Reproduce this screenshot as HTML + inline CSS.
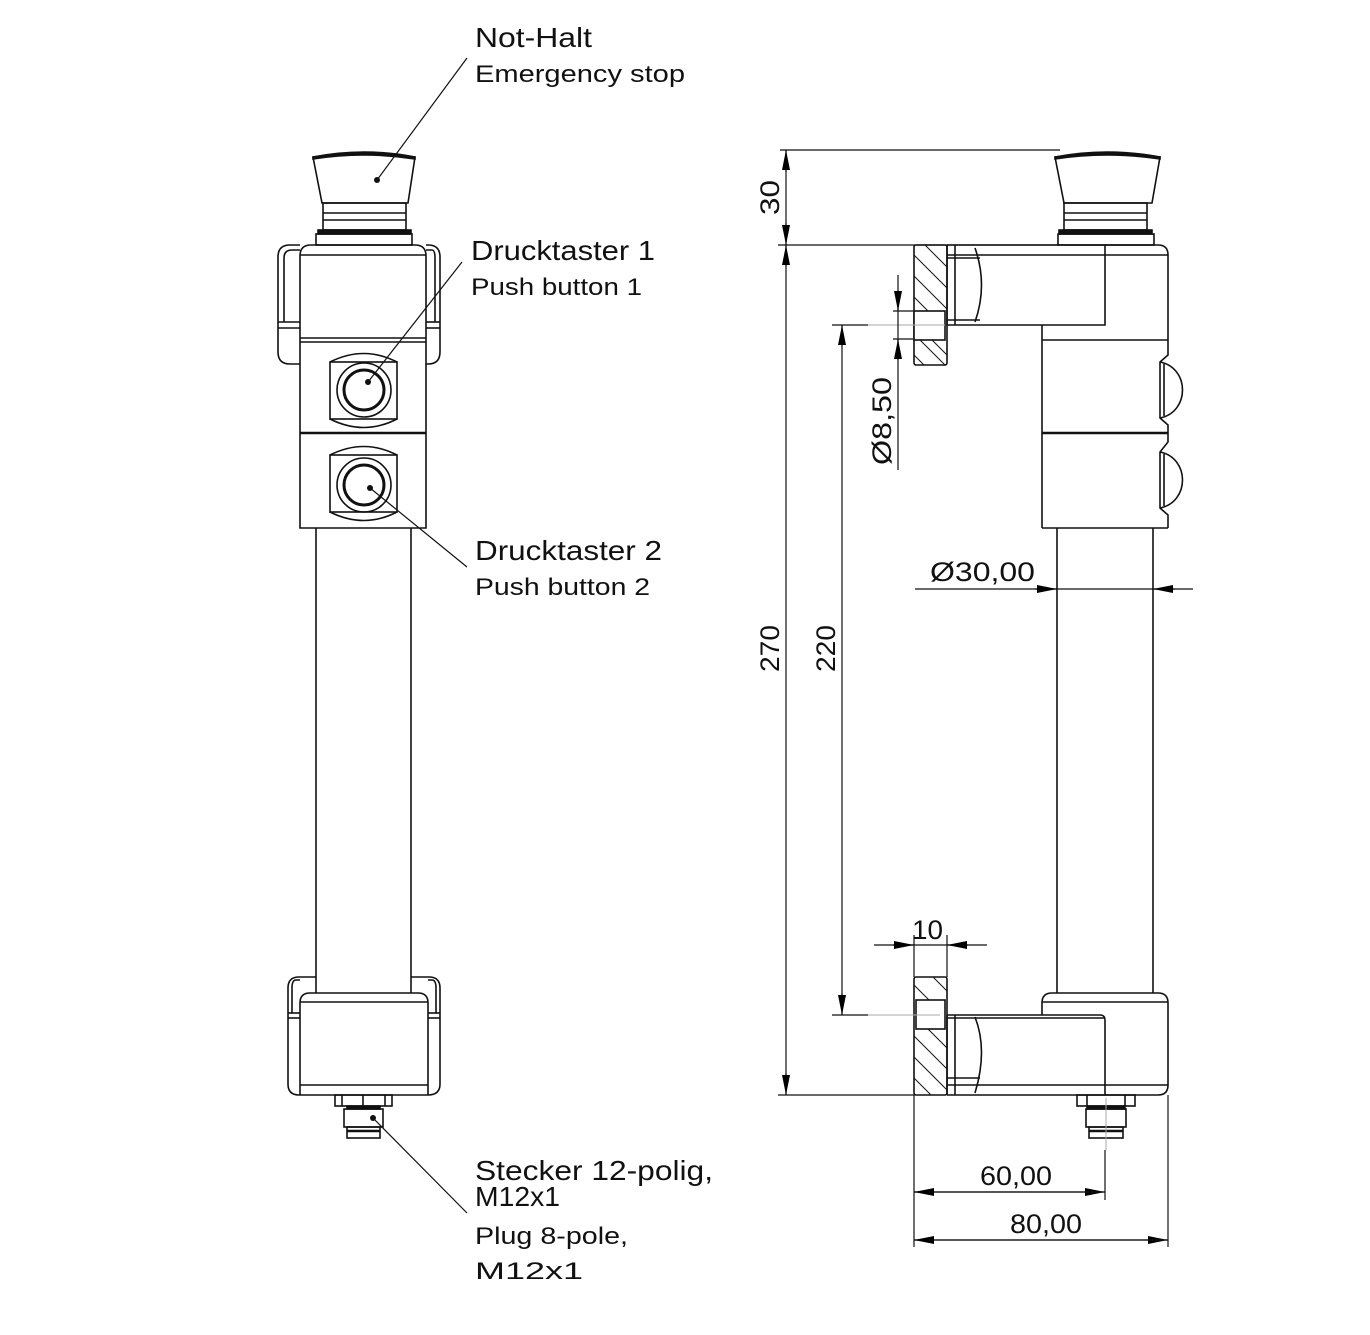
<!DOCTYPE html>
<html><head><meta charset="utf-8"><style>
html,body{margin:0;padding:0;background:#fff;}
svg{display:block;}
text{font-family:"Liberation Sans",sans-serif;fill:#111;}
</style></head><body>
<svg width="1370" height="1335" viewBox="0 0 1370 1335" xmlns="http://www.w3.org/2000/svg">
<defs>
<marker id="a" viewBox="0 0 20 8" refX="20" refY="4" markerWidth="20" markerHeight="8" markerUnits="userSpaceOnUse" orient="auto"><path d="M0,0 L20,4 L0,8 Z" fill="#000"/></marker>
</defs>
<g fill="none" stroke="#111" stroke-width="1.6">
<!-- LEFT VIEW -->
<path d="M313,157 Q364,149 415,157 L408,203 L322,203 Z" fill="#fff"/>
<path d="M313,157 Q364,147 415,157 L415,159 Q364,151 313,159 Z" fill="#111"/>
<rect x="323" y="203" width="83" height="27"/>
<line x1="323" y1="213" x2="406" y2="213"/><line x1="323" y1="220" x2="406" y2="220"/>
<rect x="318" y="230" width="93" height="4" fill="#111"/>
<rect x="316" y="234" width="96" height="11"/>
<path d="M300,245 L290,245 Q278,245 278,257 L278,352 Q278,364 290,364 L300,364"/>
<path d="M426,245 L428,245 Q440,245 440,257 L440,352 Q440,364 428,364 L426,364"/>
<path d="M300,250 L292,250 Q284,250 284,258 L284,322"/>
<path d="M426,250 L432,250 Q435,250 435,258 L435,322"/>
<line x1="278" y1="322" x2="300" y2="322"/><line x1="426" y1="322" x2="440" y2="322"/>
<line x1="278" y1="328" x2="300" y2="328"/><line x1="426" y1="328" x2="440" y2="328"/>
<path d="M300,528 L300,256 Q300,245 311,245 L415,245 Q426,245 426,256 L426,528 Z"/>
<line x1="300" y1="255" x2="426" y2="255"/>
<line x1="300" y1="338" x2="426" y2="338"/><line x1="300" y1="342" x2="426" y2="342"/>
<line x1="300" y1="433" x2="426" y2="433" stroke-width="2.4"/>
<rect x="330" y="362" width="67" height="57"/>
<path d="M330,362 Q364,345 397,362"/><path d="M330,419 Q364,436 397,419"/>
<circle cx="364" cy="390" r="27"/><circle cx="364" cy="390" r="20" stroke-width="3"/>
<rect x="330" y="455" width="67" height="57"/>
<path d="M330,455 Q364,438 397,455"/><path d="M330,512 Q364,529 397,512"/>
<circle cx="364" cy="485" r="27"/><circle cx="364" cy="485" r="20" stroke-width="3"/>
<line x1="316" y1="528" x2="316" y2="993"/><line x1="411" y1="528" x2="411" y2="993"/>
<path d="M316,977 L299,977 Q288,977 288,988 L288,1084 Q288,1095 299,1095 L428,1095 Q440,1095 440,1084 L440,988 Q440,977 429,977 L411,977"/>
<path d="M300,980 L296,980 Q292,980 292,988 L292,1013"/>
<path d="M428,980 L432,980 Q436,980 436,988 L436,1013"/>
<line x1="288" y1="1013" x2="300" y2="1013"/><line x1="428" y1="1013" x2="440" y2="1013"/>
<line x1="288" y1="1018" x2="300" y2="1018"/><line x1="428" y1="1018" x2="440" y2="1018"/>
<path d="M300,1095 L300,1003 Q300,993 310,993 L418,993 Q428,993 428,1003 L428,1095"/>
<line x1="300" y1="1002" x2="428" y2="1002"/>
<line x1="300" y1="1085" x2="428" y2="1085"/>
<rect x="335" y="1095" width="57" height="11"/>
<line x1="342" y1="1095" x2="342" y2="1106"/><line x1="385" y1="1095" x2="385" y2="1106"/>
<line x1="363" y1="1095" x2="363" y2="1106"/>
<rect x="347" y="1106" width="33" height="3" fill="#111"/>
<rect x="344" y="1109" width="39" height="18"/>
<rect x="347" y="1127" width="33" height="11"/>
<line x1="347" y1="1131" x2="380" y2="1131" stroke-width="2.5"/>

<!-- RIGHT VIEW -->
<path d="M1055,157 Q1107,149 1160,157 L1152,203 L1064,203 Z" fill="#fff"/>
<path d="M1055,157 Q1107,147 1160,157 L1160,159 Q1107,151 1055,159 Z" fill="#111"/>
<rect x="1064" y="203" width="83" height="27"/>
<line x1="1064" y1="213" x2="1147" y2="213"/><line x1="1064" y1="220" x2="1147" y2="220"/>
<rect x="1059" y="230" width="93" height="4" fill="#111"/>
<rect x="1058" y="234" width="96" height="11"/>
<path d="M947,245 L1158,245 Q1168,245 1168,255 L1168,355 L1160,362 L1160,418 L1168,425 L1168,442 L1160,452 L1160,508 L1168,515 L1168,528"/>
<line x1="947" y1="255" x2="1168" y2="255"/>
<path d="M947,245 L947,325 L1105,325 L1105,245"/>
<line x1="947" y1="258" x2="980" y2="258"/><line x1="947" y1="320" x2="980" y2="320"/>
<line x1="955" y1="245" x2="955" y2="325"/>
<path d="M975,248 Q988,285 975,322"/>
<line x1="1042" y1="325" x2="1042" y2="528"/>
<line x1="1042" y1="340" x2="1168" y2="340"/>
<line x1="1042" y1="433" x2="1168" y2="433" stroke-width="2.4"/>
<path d="M1042,528 L1168,528"/>
<path d="M1160,362 C1190,368 1190,412 1160,418"/><line x1="1164" y1="364" x2="1164" y2="416"/>
<path d="M1160,452 C1190,458 1190,502 1160,508"/><line x1="1164" y1="454" x2="1164" y2="506"/>
<rect x="914" y="245" width="33" height="120" rx="2"/>
<rect x="914" y="311" width="31" height="29" fill="#fff"/>
<g stroke-width="1">
<line x1="925" y1="245" x2="947" y2="267"/><line x1="914" y1="255" x2="947" y2="288"/><line x1="914" y1="276" x2="947" y2="309"/><line x1="914" y1="297" x2="928" y2="311"/>
<line x1="920" y1="340" x2="945" y2="365"/><line x1="932" y1="340" x2="947" y2="355"/><line x1="914" y1="355" x2="924" y2="365"/>
</g>
<line x1="1057" y1="528" x2="1057" y2="993"/><line x1="1153" y1="528" x2="1153" y2="993"/>
<path d="M1042,1015 L1042,1003 Q1042,993 1052,993 L1158,993 Q1168,993 1168,1003 L1168,1085 Q1168,1095 1158,1095 L947,1095"/>
<line x1="1042" y1="1002" x2="1168" y2="1002"/>
<path d="M947,1015 L1100,1015 Q1105,1015 1105,1020 L1105,1095"/>
<line x1="947" y1="1018" x2="1105" y2="1018"/>
<line x1="947" y1="1015" x2="947" y2="1095"/><line x1="955" y1="1015" x2="955" y2="1095"/>
<line x1="947" y1="1078" x2="980" y2="1078"/><line x1="947" y1="1085" x2="1168" y2="1085"/>
<path d="M975,1017 Q988,1050 975,1093"/>
<rect x="914" y="977" width="33" height="118" rx="2"/>
<rect x="916" y="1000" width="29" height="29" fill="#fff"/>
<g stroke-width="1">
<line x1="933" y1="977" x2="947" y2="991"/><line x1="914" y1="985" x2="929" y2="1000"/>
<line x1="928" y1="1029" x2="947" y2="1048"/><line x1="914" y1="1036" x2="947" y2="1069"/><line x1="914" y1="1057" x2="947" y2="1090"/><line x1="914" y1="1078" x2="931" y2="1095"/>
</g>
<rect x="1077" y="1095" width="58" height="11"/>
<line x1="1087" y1="1095" x2="1087" y2="1106"/><line x1="1125" y1="1095" x2="1125" y2="1106"/>
<rect x="1087" y="1106" width="38" height="3" fill="#111"/>
<rect x="1086" y="1109" width="40" height="18"/>
<rect x="1089" y="1127" width="34" height="11"/>
<line x1="1089" y1="1131" x2="1123" y2="1131" stroke-width="2.5"/>
</g>

<g stroke="#aaa" stroke-width="1">
<line x1="868" y1="325" x2="945" y2="325"/>
<line x1="868" y1="1015" x2="940" y2="1015"/>
<line x1="1106" y1="1098" x2="1106" y2="1150"/>
</g>

<g stroke="#111" stroke-width="1.2" fill="none">
<line x1="377" y1="180" x2="467" y2="58"/>
<line x1="368" y1="382" x2="462" y2="262"/>
<line x1="370" y1="488" x2="467" y2="567"/>
<line x1="373" y1="1118" x2="467" y2="1213"/>
</g>
<g fill="#111">
<circle cx="377" cy="180" r="3"/><circle cx="368" cy="382" r="3"/><circle cx="370" cy="488" r="3"/><circle cx="373" cy="1118" r="3"/>
</g>

<g stroke="#111" stroke-width="1.2" fill="none">
<line x1="780" y1="150" x2="1060" y2="150"/>
<line x1="778" y1="245" x2="1058" y2="245"/>
<line x1="778" y1="1095" x2="914" y2="1095"/>
<line x1="786" y1="150" x2="786" y2="245"/>
<line x1="786" y1="245" x2="786" y2="1095"/>
<line x1="786" y1="172" x2="786" y2="150" marker-end="url(#a)"/>
<line x1="786" y1="223" x2="786" y2="245" marker-end="url(#a)"/>
<line x1="786" y1="267" x2="786" y2="245" marker-end="url(#a)"/>
<line x1="786" y1="1073" x2="786" y2="1095" marker-end="url(#a)"/>
<line x1="832" y1="325" x2="868" y2="325"/>
<line x1="832" y1="1015" x2="868" y2="1015"/>
<line x1="842" y1="325" x2="842" y2="1015"/>
<line x1="842" y1="347" x2="842" y2="325" marker-end="url(#a)"/>
<line x1="842" y1="993" x2="842" y2="1015" marker-end="url(#a)"/>
<line x1="893" y1="311" x2="913" y2="311"/>
<line x1="893" y1="339" x2="913" y2="339"/>
<line x1="898" y1="275" x2="898" y2="470"/>
<line x1="898" y1="290" x2="898" y2="311" marker-end="url(#a)"/>
<line x1="898" y1="360" x2="898" y2="339" marker-end="url(#a)"/>
<line x1="915" y1="589" x2="1193" y2="589"/>
<line x1="1035" y1="589" x2="1057" y2="589" marker-end="url(#a)"/>
<line x1="1175" y1="589" x2="1153" y2="589" marker-end="url(#a)"/>
<line x1="914" y1="935" x2="914" y2="977"/>
<line x1="947" y1="935" x2="947" y2="977"/>
<line x1="874" y1="945" x2="987" y2="945"/>
<line x1="893" y1="945" x2="914" y2="945" marker-end="url(#a)"/>
<line x1="968" y1="945" x2="947" y2="945" marker-end="url(#a)"/>
<line x1="914" y1="1095" x2="914" y2="1247"/>
<line x1="1168" y1="1095" x2="1168" y2="1247"/>
<line x1="1105" y1="1150" x2="1105" y2="1200"/>
<line x1="914" y1="1192" x2="1105" y2="1192" marker-end="url(#a)"/>
<line x1="1105" y1="1192" x2="914" y2="1192" marker-end="url(#a)"/>
<line x1="914" y1="1240" x2="1168" y2="1240" marker-end="url(#a)"/>
<line x1="1168" y1="1240" x2="914" y2="1240" marker-end="url(#a)"/>
</g>

<text font-size="27" textLength="35" lengthAdjust="spacingAndGlyphs" transform="translate(779,215) rotate(-90)">30</text>
<text font-size="27" textLength="47" lengthAdjust="spacingAndGlyphs" transform="translate(779,672) rotate(-90)">270</text>
<text font-size="27" textLength="47" lengthAdjust="spacingAndGlyphs" transform="translate(835,672) rotate(-90)">220</text>
<text font-size="27" textLength="88" lengthAdjust="spacingAndGlyphs" transform="translate(891,465) rotate(-90)">Ø8,50</text>
<text x="930" y="581" font-size="27" textLength="105" lengthAdjust="spacingAndGlyphs">Ø30,00</text>
<text x="912" y="939" font-size="27" textLength="31" lengthAdjust="spacingAndGlyphs">10</text>
<text x="980" y="1185" font-size="27" textLength="72" lengthAdjust="spacingAndGlyphs">60,00</text>
<text x="1010" y="1233" font-size="27" textLength="72" lengthAdjust="spacingAndGlyphs">80,00</text>

<text x="475" y="47" font-size="28" textLength="117" lengthAdjust="spacingAndGlyphs">Not-Halt</text>
<text x="475" y="82" font-size="24" textLength="210" lengthAdjust="spacingAndGlyphs">Emergency stop</text>
<text x="471" y="260" font-size="28" textLength="184" lengthAdjust="spacingAndGlyphs">Drucktaster 1</text>
<text x="471" y="295" font-size="24" textLength="171" lengthAdjust="spacingAndGlyphs">Push button 1</text>
<text x="475" y="560" font-size="28" textLength="187" lengthAdjust="spacingAndGlyphs">Drucktaster 2</text>
<text x="475" y="595" font-size="24" textLength="175" lengthAdjust="spacingAndGlyphs">Push button 2</text>
<text x="475" y="1180" font-size="28" textLength="238" lengthAdjust="spacingAndGlyphs">Stecker 12-polig,</text>
<text x="475" y="1206" font-size="28" textLength="85" lengthAdjust="spacingAndGlyphs">M12x1</text>
<text x="475" y="1244" font-size="24" textLength="153" lengthAdjust="spacingAndGlyphs">Plug 8-pole,</text>
<text x="475" y="1279" font-size="24" textLength="108" lengthAdjust="spacingAndGlyphs">M12x1</text>
</svg>
</body></html>
